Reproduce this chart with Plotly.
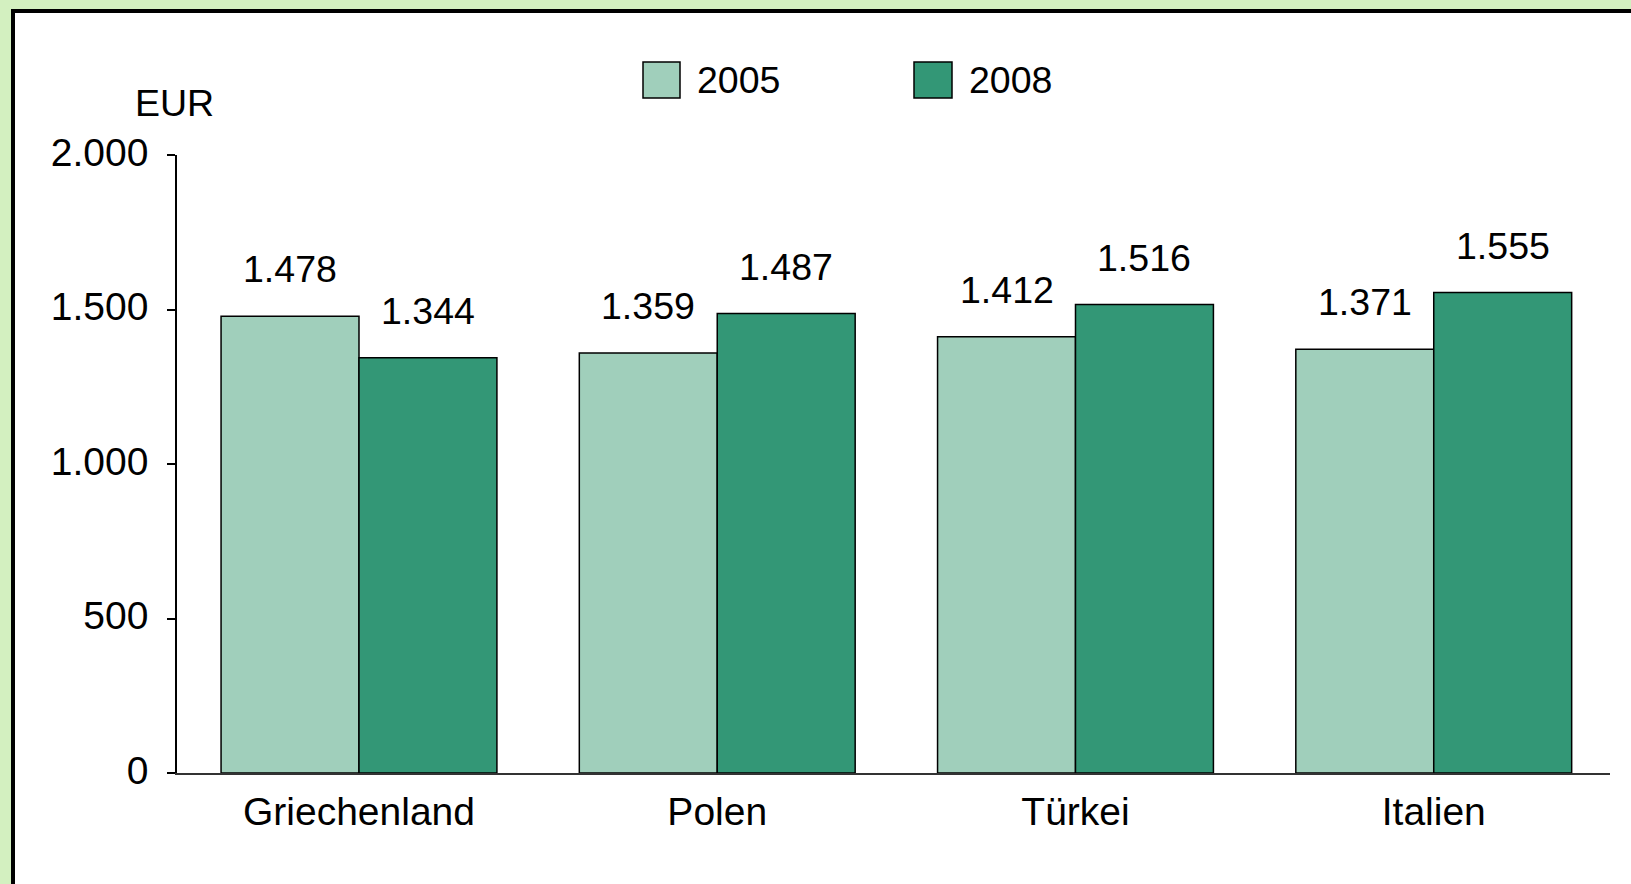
import plotly.graph_objects as go

categories = ["Griechenland", "Polen", "Türkei", "Italien"]
years = ["2005", "2008"]
values_2005 = [1478, 1359, 1412, 1371]
values_2008 = [1344, 1487, 1516, 1555]
value_labels_2005 = ["1.478", "1.359", "1.412", "1.371"]
value_labels_2008 = ["1.344", "1.487", "1.516", "1.555"]
y_tickvals = [0, 500, 1000, 1500, 2000]
y_ticktext = ["0", "500", "1.000", "1.500", "2.000"]

colors = ["#A0CFBB", "#339776"]
FONT = "Liberation Sans, Arial, sans-serif"
FS = 37.5

W, H = 1631, 884
L, R, T, B = 177, 21, 155, 111
PW, PH = W - L - R, H - T - B


def px(x):
    return (x - L) / PW


def py(y):
    return (H - B - y) / PH


BARGAP = 0.23
cat_px = PW / len(categories)
half_offset = (1 - BARGAP) / 4 * cat_px

fig = go.Figure()
series = [values_2005, values_2008]
labels = [value_labels_2005, value_labels_2008]
for i, (yr, vals) in enumerate(zip(years, series)):
    fig.add_trace(go.Bar(
        x=categories, y=vals, name=yr,
        marker=dict(color=colors[i], line=dict(color="black", width=1.5)),
        showlegend=False,
    ))

annotations = []
for i in range(2):
    shift = -half_offset if i == 0 else half_offset
    for c, v, t in zip(categories, series[i], labels[i]):
        annotations.append(dict(
            x=c, y=v, xref="x", yref="y", text=t, showarrow=False,
            xshift=shift, yshift=47, yanchor="middle", xanchor="center",
            font=dict(family=FONT, size=37.5, color="black"),
        ))

# EUR unit label
annotations.append(dict(
    x=px(133), y=py(103), xref="paper", yref="paper", text="EUR",
    showarrow=False, xanchor="left", yanchor="middle",
    font=dict(family=FONT, size=37.5, color="black"),
))

shapes = [
    # outer frame
    dict(type="rect", xref="paper", yref="paper",
         x0=px(13), x1=px(W + 20), y0=py(11), y1=py(H + 20),
         line=dict(color="black", width=4), fillcolor="white", layer="below"),
]

# manual legend
legend_items = [(643, 680, 695), (914, 952, 967)]
for i, (x0, x1, tx) in enumerate(legend_items):
    shapes.append(dict(type="rect", xref="paper", yref="paper",
                       x0=px(x0), x1=px(x1), y0=py(98), y1=py(62),
                       line=dict(color="black", width=1.5),
                       fillcolor=colors[i]))
    annotations.append(dict(
        x=px(tx), y=py(80), xref="paper", yref="paper", text=years[i],
        showarrow=False, xanchor="left", yanchor="middle",
        font=dict(family=FONT, size=FS, color="black"),
    ))

fig.update_layout(
    width=W, height=H,
    margin=dict(l=L, r=R, t=T, b=B, pad=0),
    paper_bgcolor="#D3F0C0",
    plot_bgcolor="white",
    barmode="group",
    bargap=BARGAP,
    bargroupgap=0,
    font=dict(family=FONT, size=FS, color="black"),
    shapes=shapes,
    annotations=annotations,
    xaxis=dict(
        type="category", range=[-0.508, 3.492],
        showline=True, linecolor="#333333", linewidth=1.5,
        ticks="", showgrid=False, zeroline=False,
        tickfont=dict(family=FONT, size=39, color="black"),
        ticklabelstandoff=3,
    ),
    yaxis=dict(
        range=[0, 2000], tickvals=y_tickvals, ticktext=y_ticktext,
        showline=True, linecolor="black", linewidth=1.5,
        ticks="outside", ticklen=8, tickwidth=1.5, tickcolor="black",
        showgrid=False, zeroline=False,
        tickfont=dict(family=FONT, size=39, color="black"),
        ticklabelstandoff=11, ticklabelshift=-3,
    ),
)

fig.write_html(
    "out.html",
    config={"displayModeBar": False},
    post_script="document.body.style.margin='0';document.body.style.overflow='hidden';",
)
